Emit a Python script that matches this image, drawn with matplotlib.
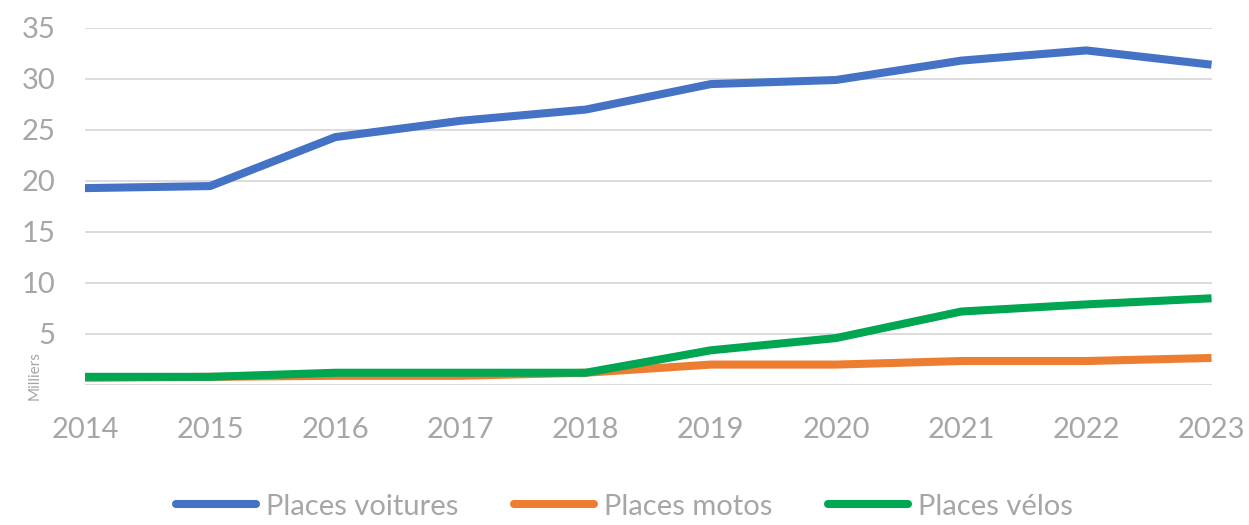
import matplotlib.pyplot as plt
import numpy as np

years = [2014, 2015, 2016, 2017, 2018, 2019, 2020, 2021, 2022, 2023]
voitures = [19.3, 19.5, 24.3, 25.9, 27.0, 29.5, 29.9, 31.8, 32.8, 31.4]
motos = [0.7, 0.8, 0.9, 0.9, 1.2, 2.0, 2.0, 2.35, 2.35, 2.65]
velos = [0.8, 0.8, 1.2, 1.2, 1.2, 3.4, 4.6, 7.2, 7.9, 8.5]

grey = '#A6A6A6'
plt.rcParams['font.family'] = ['Lato', 'DejaVu Sans']

fig = plt.figure(figsize=(12.49, 5.25), dpi=100)
ax = fig.add_axes([0.068, 0.2667, 0.902, 0.68])

ax.plot(years, voitures, color='#4472C4', lw=5.8, label='Places voitures', solid_capstyle='butt')
ax.plot(years, motos, color='#ED7D31', lw=5.8, label='Places motos', solid_capstyle='butt')
ax.plot(years, velos, color='#00A651', lw=5.8, label='Places vélos', solid_capstyle='butt')

ax.set_xlim(2014, 2023)
ax.set_ylim(0, 35)
ax.set_yticks(np.arange(0, 36, 5))
ax.set_yticklabels([''] + [str(v) for v in range(5, 36, 5)])
ax.set_xticks(years)
ax.grid(axis='y', color='#D9D9D9', lw=1.3)
ax.set_axisbelow(True)
for s in ax.spines.values():
    s.set_visible(False)
ax.tick_params(length=0, labelsize=21, colors=grey)
ax.tick_params(axis='x', pad=23)
ax.tick_params(axis='y', pad=21)

fig.text(0.028, 0.285, 'Milliers', rotation=90, fontsize=11, color=grey, ha='center', va='center')

leg = fig.legend(loc='center', bbox_to_anchor=(0.5, 0.035), ncol=3, frameon=False,
                 fontsize=21, handlelength=2.75, handletextpad=0.35, columnspacing=1.9)
for t in leg.get_texts():
    t.set_color(grey)
for h in leg.legend_handles:
    h.set_solid_capstyle('round')

fig.savefig('out.png', dpi=100)
